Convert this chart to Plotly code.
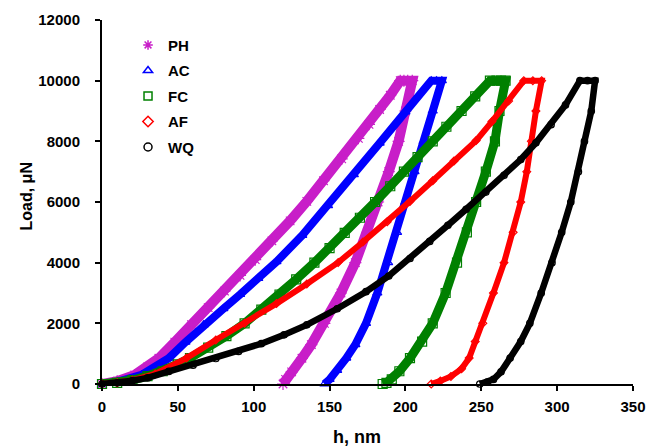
import plotly.graph_objects as go

# ---- data (h in nm, Load in uN) ----
series_names = ["PH", "AC", "FC", "AF", "WQ"]

ph_h = [0, 10, 21.6, 30, 37.5, 48, 59, 70, 80.7, 91, 101, 112, 124, 135, 146, 158, 169, 176, 183, 190, 196.6,
        199, 201.5, 204.5,
        200, 195.5, 189, 182, 175, 167, 157.5, 146.6, 138, 131.8, 125, 121, 119.3]
ph_L = [0, 90, 300, 560, 850, 1380, 1960, 2520, 3060, 3580, 4100, 4720, 5380, 6020, 6700, 7420, 8100, 8560, 9050, 9520, 10000,
        10000, 10000, 10000,
        9000, 8000, 7000, 6000, 5000, 4000, 3000, 2000, 1300, 850, 400, 150, 0]

ac_h = [0, 10, 26, 44, 55, 67, 80, 91, 103, 115, 132, 149, 166, 183, 200, 217,
        220.5, 224,
        218, 212, 206, 200, 194.5, 188.6, 181.5, 174, 167, 161, 155, 150, 146.6]
ac_L = [0, 70, 300, 850, 1380, 1950, 2480, 2950, 3480, 4030, 4900, 5880, 6900, 7940, 8970, 10000,
        10000, 10000,
        9000, 8000, 7000, 6000, 5000, 4000, 3000, 2000, 1300, 850, 450, 150, 0]

fc_h = [0, 10, 20, 30, 40, 50, 58, 70, 82, 94, 105, 117, 128, 140, 150, 160, 170, 180, 190, 199, 208, 218, 227, 237, 246, 255.7,
        260, 263, 266,
        262, 259, 253, 246.6, 240.5, 234, 226.5, 218, 211, 203, 196, 191, 187.5, 185]
fc_L = [0, 40, 130, 260, 420, 650, 854, 1200, 1580, 2000, 2450, 2950, 3450, 4000, 4480, 4980, 5480, 6000, 6520, 7000, 7480, 8000, 8480, 9000, 9480, 10000,
        10000, 10000, 10000,
        9000, 8000, 7000, 6000, 5000, 4000, 3000, 2000, 1400, 850, 420, 150, 40, 0]

af_h = [0, 10, 20, 35, 55.7, 75, 94, 115, 135, 155.7, 172, 188, 203, 218, 232, 246.6, 257, 268, 278,
        284, 289.8,
        286, 283, 280, 276, 271, 265, 258, 251, 246, 242, 237, 230, 223, 217]
af_L = [0, 40, 120, 330, 854, 1450, 2003, 2650, 3300, 4007, 4680, 5350, 6020, 6700, 7350, 8024, 8650, 9330, 10000,
        10000, 10000,
        9000, 8000, 7000, 6000, 5000, 4000, 3000, 2000, 1400, 854, 500, 250, 100, 0]

wq_h = [0, 10, 20, 30, 44, 60, 75, 90, 105, 120, 135, 155, 174, 189, 203, 216, 228, 240, 253, 265, 276, 286, 296, 305.5, 315,
        320, 325,
        322.5, 318, 314, 309, 303, 296.6, 289.5, 282, 276, 269, 263, 258, 254, 249]
wq_L = [0, 40, 110, 200, 416, 620, 840, 1073, 1330, 1620, 1950, 2480, 3043, 3560, 4138, 4700, 5233, 5760, 6327, 6880, 7400, 7950, 8550, 9200, 10000,
        10000, 10000,
        9000, 8000, 7000, 6000, 5000, 4000, 3000, 2000, 1400, 854, 400, 150, 60, 0]

x_ticks = [0, 50, 100, 150, 200, 250, 300, 350]
y_ticks = [0, 2000, 4000, 6000, 8000, 10000, 12000]

# ---- styles ----
colors = ["#C81EC8", "#0000FF", "#008000", "#FF0000", "#000000"]
symbols = ["asterisk-open", "triangle-up-open", "square-open", "diamond-open", "circle-open"]
band_w = [10, 8, 9, 6, 6.5]

data = [(ph_h, ph_L), (ac_h, ac_L), (fc_h, fc_L), (af_h, af_L), (wq_h, wq_L)]

fig = go.Figure()
for name, (hh, LL), c, s, w in zip(series_names, data, colors, symbols, band_w):
    fig.add_trace(go.Scatter(
        x=hh, y=LL, mode="lines+markers", name=name, showlegend=False,
        line=dict(color=c, width=w),
        marker=dict(symbol=s, size=w, color=c, line=dict(color=c, width=1.2)),
        cliponaxis=False,
    ))

# legend entries (marker only)
for name, c, s in zip(series_names, colors, symbols):
    fig.add_trace(go.Scatter(
        x=[None], y=[None], mode="markers", name=name, legendgroup=name,
        marker=dict(symbol=s, size=8, color=c, line=dict(color=c, width=1.5)),
    ))

font_family = "Liberation Sans, Arial, sans-serif"

fig.update_layout(
    width=662, height=448,
    margin=dict(l=101.5, r=29, t=20, b=64),
    paper_bgcolor="white", plot_bgcolor="white",
    font=dict(family=font_family, color="black"),
    showlegend=True,
    legend=dict(
        x=0.049, y=0.976, xanchor="left", yanchor="top",
        bgcolor="rgba(0,0,0,0)", borderwidth=0,
        font=dict(family=font_family, size=15, color="black", weight="bold"),
        tracegroupgap=3,
    ),
    xaxis=dict(
        range=[0, 350], tickvals=x_ticks, ticktext=[str(v) for v in x_ticks],
        showline=True, linecolor="black", linewidth=2,
        ticks="outside", ticklen=5, tickwidth=2, tickcolor="black",
        showgrid=False, zeroline=False,
        tickfont=dict(family=font_family, size=15, color="black", weight="bold"),
        ticklabelstandoff=3,
    ),
    yaxis=dict(
        range=[0, 12000], tickvals=y_ticks, ticktext=[str(v) for v in y_ticks],
        showline=True, linecolor="black", linewidth=2,
        ticks="outside", ticklen=5, tickwidth=2, tickcolor="black",
        showgrid=False, zeroline=False,
        tickfont=dict(family=font_family, size=15, color="black", weight="bold"),
        ticklabelstandoff=12,
    ),
    annotations=[
        dict(text="<b>Load, μN</b>", xref="paper", yref="paper", x=-0.142, y=0.514,
             xanchor="center", yanchor="middle", textangle=-90, showarrow=False,
             font=dict(family=font_family, size=16, color="black")),
        dict(text="<b>h, nm</b>", xref="paper", yref="paper", x=0.4807, y=-0.1456,
             xanchor="center", yanchor="middle", showarrow=False,
             font=dict(family=font_family, size=18, color="black")),
    ],
)

fig.write_html("out.html")
